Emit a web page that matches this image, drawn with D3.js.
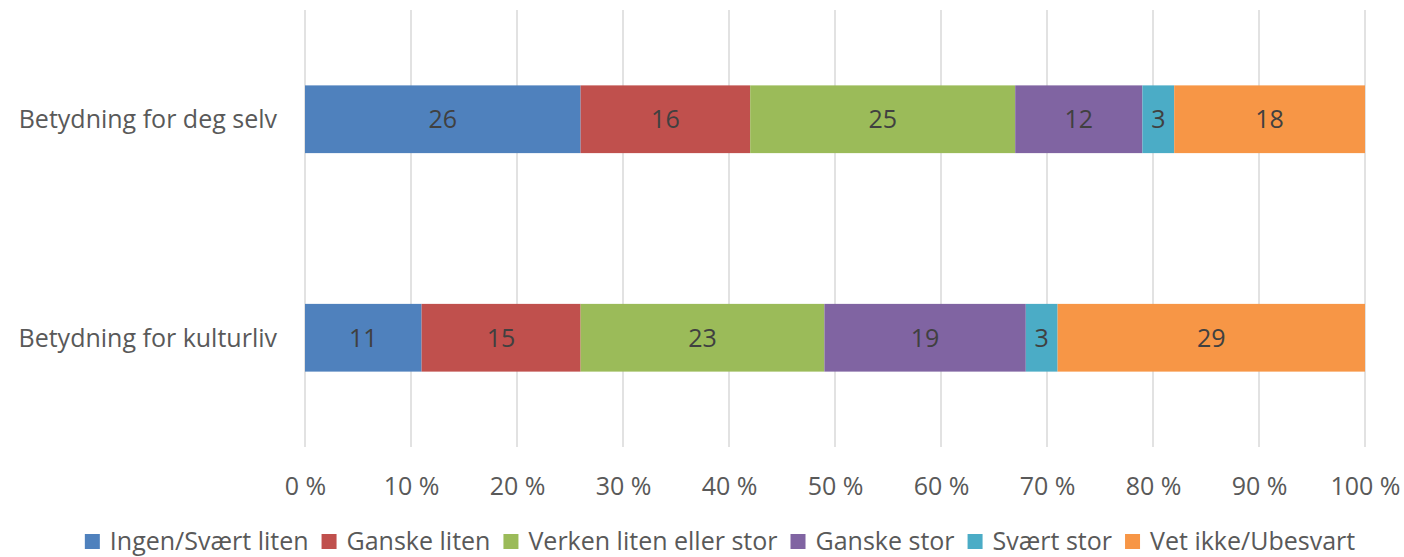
<!DOCTYPE html>
<html>
<head>
<meta charset="utf-8">
<script src="https://cdn.jsdelivr.net/npm/d3@7"></script>
<style>
  body { margin: 0; background: #fff; }
  text { font-family: "Open Sans", "Noto Sans", sans-serif; }
</style>
</head>
<body>
<svg id="chart" width="1404" height="557"></svg>
<script>
// rows and stacked series (percent)
const categories = ["Betydning for deg selv", "Betydning for kulturliv"];
const seriesNames = ["Ingen/Svært liten", "Ganske liten", "Verken liten eller stor", "Ganske stor", "Svært stor", "Vet ikke/Ubesvart"];
const degSelv = [26, 16, 25, 12, 3, 18];
const kulturliv = [11, 15, 23, 19, 3, 29];
const tickValues = [0, 10, 20, 30, 40, 50, 60, 70, 80, 90, 100];
const colors = ["#4F81BD", "#C0504D", "#9BBB59", "#8064A2", "#4BACC6", "#F79646"];

const rows = [degSelv, kulturliv];
const table = categories.map((c, i) => {
  const o = { cat: c };
  seriesNames.forEach((s, j) => (o[s] = rows[i][j]));
  return o;
});

const svg = d3.select("#chart");
const m = { left: 305, right: 1365, top: 10, bottom: 447 };
const fs = 25;

const x = d3.scaleLinear().domain([0, 100]).range([m.left, m.right]);
const y = d3.scaleBand().domain(categories).range([m.top, m.bottom]).paddingInner(0.69).paddingOuter(0.345);

// gridlines
svg.append("g")
  .selectAll("line")
  .data(tickValues)
  .join("line")
  .attr("x1", (d) => x(d)).attr("x2", (d) => x(d))
  .attr("y1", m.top).attr("y2", m.bottom)
  .attr("stroke", "#D9D9D9")
  .attr("stroke-width", 1.5);

// stacked bars
const stack = d3.stack().keys(seriesNames)(table);

const layer = svg.append("g")
  .selectAll("g")
  .data(stack)
  .join("g")
  .attr("fill", (d, i) => colors[i]);

layer.selectAll("rect")
  .data((d) => d)
  .join("rect")
  .attr("x", (d) => x(d[0]))
  .attr("width", (d) => x(d[1]) - x(d[0]))
  .attr("y", (d) => y(d.data.cat))
  .attr("height", y.bandwidth());

// data labels
layer.selectAll("text")
  .data((d) => d)
  .join("text")
  .attr("x", (d) => (x(d[0]) + x(d[1])) / 2)
  .attr("y", (d) => y(d.data.cat) + y.bandwidth() / 2)
  .attr("dy", "0.36em")
  .attr("text-anchor", "middle")
  .attr("fill", "#404040")
  .attr("font-size", fs)
  .text((d) => d[1] - d[0]);

// category labels
svg.append("g")
  .selectAll("text")
  .data(categories)
  .join("text")
  .attr("x", m.left - 28)
  .attr("y", (d) => y(d) + y.bandwidth() / 2)
  .attr("dy", "0.36em")
  .attr("text-anchor", "end")
  .attr("fill", "#595959")
  .attr("font-size", fs)
  .text((d) => d);

// x axis labels
const xAxis = d3.axisBottom(x).tickValues(tickValues).tickSize(0).tickPadding(0).tickFormat((d) => d + " %");
const gx = svg.append("g").attr("transform", `translate(0,${m.bottom + 30})`).call(xAxis);
gx.select(".domain").remove();
gx.selectAll("text").attr("fill", "#595959").attr("font-size", fs).attr("font-family", null);

// legend
const legend = svg.append("g");
const items = legend.selectAll("g").data(seriesNames).join("g");
items.append("rect").attr("width", 15).attr("height", 15).attr("fill", (d, i) => colors[i]);
items.append("text")
  .attr("x", 25).attr("y", 16)
  .attr("fill", "#595959").attr("font-size", fs)
  .text((d) => d);
const widths = [];
items.each(function () {
  widths.push(25 + d3.select(this).select("text").node().getComputedTextLength());
});
const gap = 13;
const totalW = d3.sum(widths) + gap * (widths.length - 1);
let cursor = 720 - totalW / 2;
const offsets = widths.map((w) => { const p = cursor; cursor += w + gap; return p; });
items.attr("transform", (d, i) => `translate(${offsets[i]},534)`);
</script>
</body>
</html>
